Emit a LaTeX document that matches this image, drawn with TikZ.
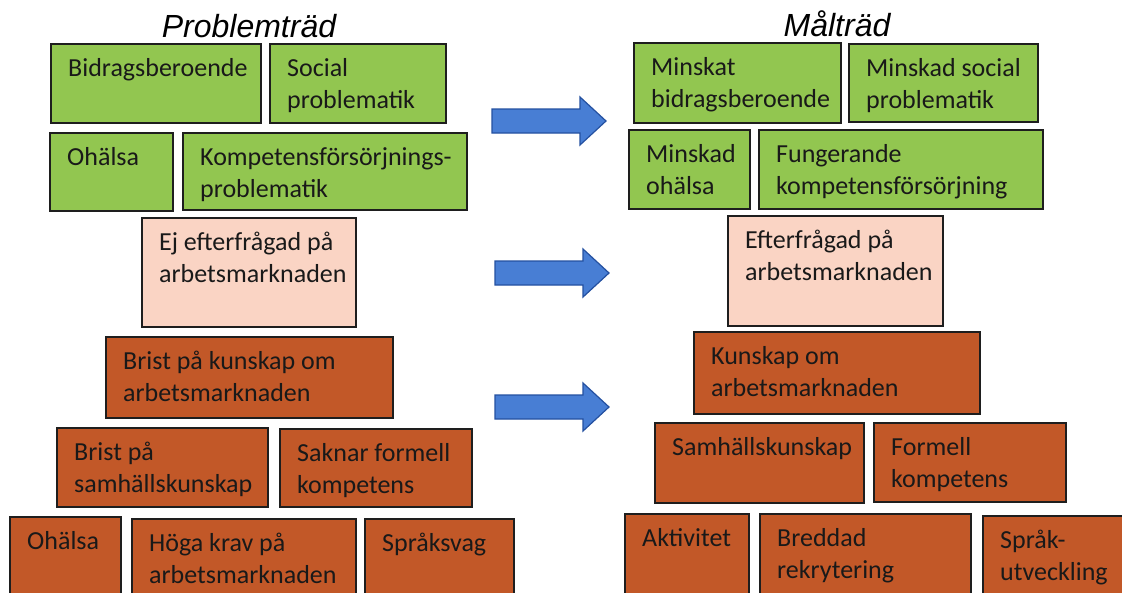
\documentclass[tikz,border=0pt]{standalone}
\usepackage{fontspec}
\setmainfont{Carlito}
\newfontfamily\rubrikfont{Liberation Sans}

\definecolor{grongul}{RGB}{146,198,80}
\definecolor{ljusrosa}{RGB}{250,212,196}
\definecolor{tegel}{RGB}{194,88,40}
\definecolor{pilbla}{RGB}{72,126,212}
\definecolor{pilkant}{RGB}{36,80,160}
\definecolor{kant}{RGB}{30,30,30}

\tikzset{
  kasse/.style={draw=kant, line width=1.8pt, anchor=north west, inner sep=0pt},
  gron/.style={kasse, fill=grongul},
  rosa/.style={kasse, fill=ljusrosa},
  brun/.style={kasse, fill=tegel},
  skrift/.style={anchor=north west, xshift=18pt, yshift=-15pt, inner sep=0pt,
    align=left, text=black!90, font=\fontsize{26}{32}\selectfont},
  pil/.style={draw=pilkant, fill=pilbla, line width=1.2pt, line join=miter},
  rubrik/.style={anchor=base, font=\rubrikfont\itshape\fontsize{32}{36}\selectfont}
}

\begin{document}
\begin{tikzpicture}[x=1pt, y=-1pt]
  \useasboundingbox (0,0) rectangle (1122,592);
  \fill[white] (0,0) rectangle (1122,592);
  \clip (0,0) rectangle (1122,592);
  %Rubriker
  \node[rubrik] (problem) at (249,37) {Problemträd};
  \node[rubrik] (mal) at (837,36) {Målträd};
  %Problemträd
  \node[gron, minimum width=210pt, minimum height=79pt, label={[skrift]north west:Bidragsberoende}] (bidrag) at (50,43) {};
  \node[gron, minimum width=176pt, minimum height=79pt, label={[skrift]north west:{Social\\problematik}}] (social) at (269,43) {};
  \node[gron, minimum width=123pt, minimum height=78pt, label={[skrift]north west:Ohälsa}] (ohalsa) at (49,132) {};
  \node[gron, minimum width=284pt, minimum height=77pt, label={[skrift]north west:{Kompetensförsörjnings-\\problematik}}] (kompetens) at (182,132) {};
  \node[rosa, minimum width=214pt, minimum height=109pt, label={[skrift]north west:{Ej efterfrågad på\\arbetsmarknaden}}] (ejefterfragad) at (141,217) {};
  \node[brun, minimum width=287pt, minimum height=81pt, label={[skrift]north west:{Brist på kunskap om\\arbetsmarknaden}}] (bristkunskap) at (105,336) {};
  \node[brun, minimum width=211pt, minimum height=79pt, label={[skrift]north west:{Brist på\\samhällskunskap}}] (bristsamhalle) at (56,427) {};
  \node[brun, minimum width=192pt, minimum height=78pt, label={[skrift]north west:{Saknar formell\\kompetens}}] (saknar) at (279,428) {};
  \node[brun, minimum width=111pt, minimum height=100pt, label={[skrift]north west:Ohälsa}] (ohalsatva) at (9,516) {};
  \node[brun, minimum width=224pt, minimum height=100pt, label={[skrift]north west:{Höga krav på\\arbetsmarknaden}}] (hogakrav) at (131,518) {};
  \node[brun, minimum width=149pt, minimum height=100pt, label={[skrift]north west:Språksvag}] (spraksvag) at (364,518) {};
  %Pilar
  \foreach \x/\y in {492/121, 495/273, 495/407}
    \draw[pil] (\x,\y-12) -- ++(88,0) -- ++(0,-12) -- ++(26,24) -- ++(-26,24) -- ++(0,-12) -- ++(-88,0) -- cycle;
  %Målträd
  \node[gron, minimum width=207pt, minimum height=80pt, label={[skrift]north west:{Minskat\\bidragsberoende}}] (minbidrag) at (633,42) {};
  \node[gron, minimum width=189pt, minimum height=78pt, label={[skrift]north west:{Minskad social\\problematik}}] (minsocial) at (848,43) {};
  \node[gron, minimum width=121pt, minimum height=79pt, label={[skrift]north west:{Minskad\\ohälsa}}] (minohalsa) at (628,129) {};
  \node[gron, minimum width=284pt, minimum height=79pt, label={[skrift]north west:{Fungerande\\kompetensförsörjning}}] (fungerande) at (758,129) {};
  \node[rosa, minimum width=215pt, minimum height=110pt, label={[skrift]north west:{Efterfrågad på\\arbetsmarknaden}}] (efterfragad) at (727,215) {};
  \node[brun, minimum width=286pt, minimum height=82pt, label={[skrift]north west:{Kunskap om\\arbetsmarknaden}}] (kunskap) at (693,331) {};
  \node[brun, minimum width=209pt, minimum height=80pt, label={[skrift]north west:Samhällskunskap}] (samhalle) at (654,422) {};
  \node[brun, minimum width=192pt, minimum height=79pt, label={[skrift]north west:{Formell\\kompetens}}] (formell) at (873,422) {};
  \node[brun, minimum width=124pt, minimum height=100pt, label={[skrift]north west:Aktivitet}] (aktivitet) at (624,513) {};
  \node[brun, minimum width=211pt, minimum height=100pt, label={[skrift]north west:{Breddad\\rekrytering}}] (breddad) at (759,513) {};
  \node[brun, minimum width=160pt, minimum height=100pt, label={[skrift]north west:{Språk-\\utveckling}}] (sprakutv) at (982,515) {};
\end{tikzpicture}
\end{document}
